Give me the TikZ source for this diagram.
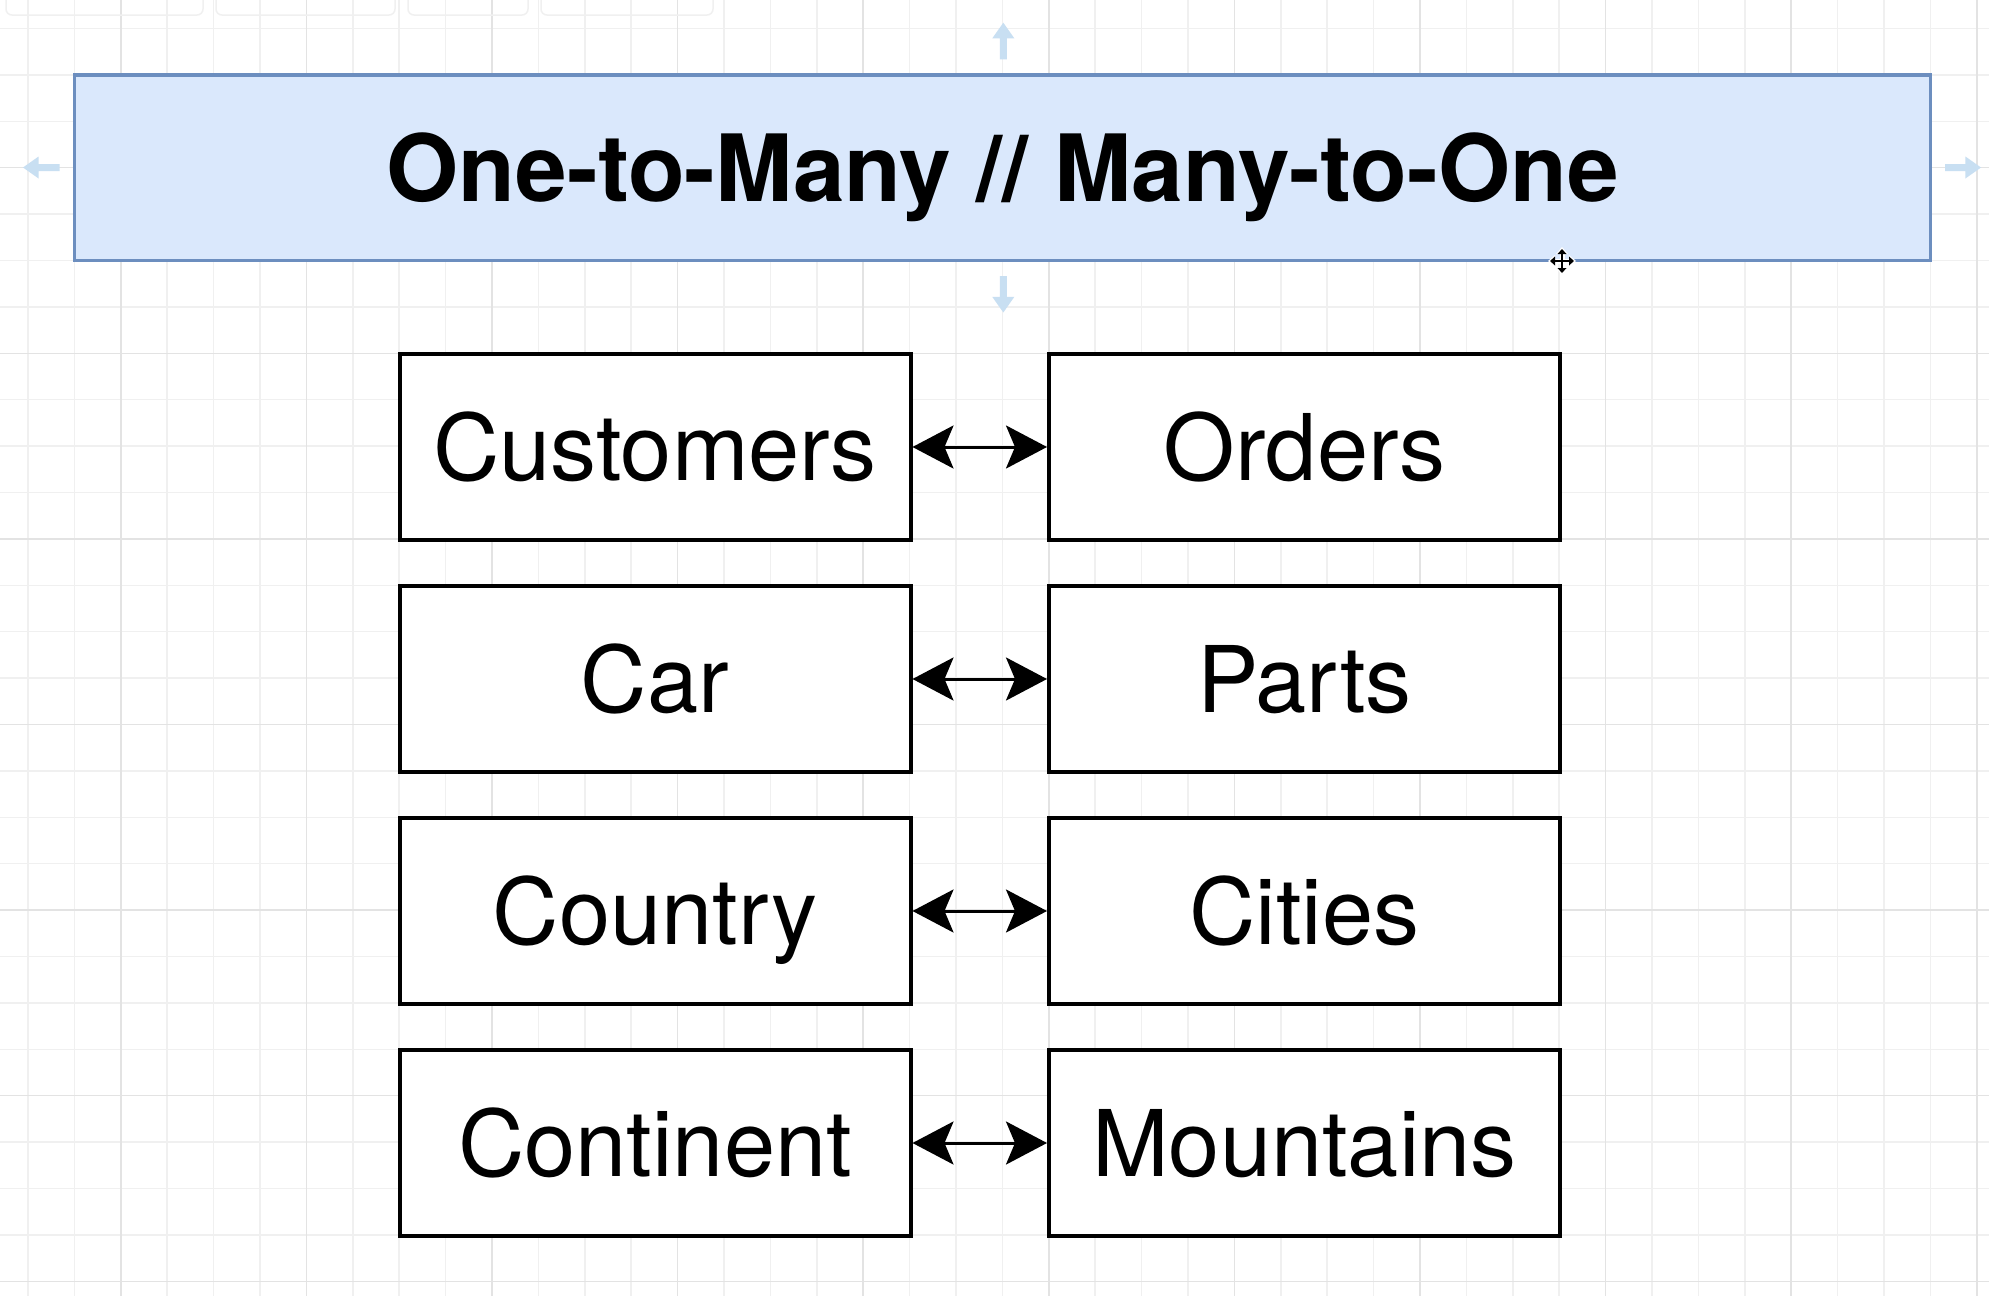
\documentclass[tikz,border=0pt]{standalone}
\usepackage{fontspec}
\setmainfont{TeX Gyre Heros}
\usetikzlibrary{arrows.meta}
\definecolor{gridminor}{HTML}{F0F0F0}
\definecolor{gridmajor}{HTML}{E3E3E3}
\definecolor{titlefill}{HTML}{DAE8FC}
\definecolor{titledraw}{HTML}{6C8EBF}
\definecolor{hoverblue}{HTML}{C8DFF2}
\definecolor{toolgray}{HTML}{F0F0F0}
\tikzset{
  x=1pt, y=-1pt,
  minorline/.style={gridminor, line width=1.5pt},
  majorline/.style={gridmajor, line width=1.5pt},
  entitybox/.style={draw=black, fill=white, line width=4pt, rectangle,
    minimum width=511pt, minimum height=186pt, inner sep=0pt,
    font=\fontsize{92}{100}\selectfont, text height=66pt, text depth=0pt},
  titlebox/.style={draw=titledraw, fill=titlefill, line width=3.5pt, rectangle,
    minimum width=1856pt, minimum height=185.6pt, inner sep=0pt,
    font=\fontsize{92.8}{100}\selectfont\bfseries, text height=66.6pt, text depth=0pt},
  relation/.style={line width=3pt, black,
    {Stealth[length=41pt,width=43pt,inset=9pt]}-{Stealth[length=41pt,width=43pt,inset=9pt]}},
  hoverarrow/.style={fill=hoverblue, draw=none},
  toolbtn/.style={draw=toolgray, line width=1.5pt, rounded corners=6pt}
}
\begin{document}
\begin{tikzpicture}
\useasboundingbox (0,0) rectangle (1989,1296);
\fill[white] (0,0) rectangle (1989,1296);
% grid
\foreach \k in {0,...,42} {
  \pgfmathsetmacro\xx{28+46.4*\k}
  \draw[minorline] (\xx,0) -- (\xx,1296);
}
\foreach \k in {-7,...,20} {
  \pgfmathsetmacro\yy{353.3+46.4*\k}
  \draw[minorline] (0,\yy) -- (1989,\yy);
}
\foreach \k in {2,6,...,42} {
  \pgfmathsetmacro\xx{28+46.4*\k}
  \draw[majorline] (\xx,0) -- (\xx,1296);
}
\foreach \k in {-4,0,...,20} {
  \pgfmathsetmacro\yy{353.3+46.4*\k}
  \draw[majorline] (0,\yy) -- (1989,\yy);
}
% faint toolbar remnants
\draw[toolbtn] (6,-10) rectangle (203,15);
\draw[toolbtn] (216,-10) rectangle (395,15);
\draw[toolbtn] (408,-10) rectangle (528,15);
\draw[toolbtn] (541,-10) rectangle (713,15);

% hover arrows around title
\fill[hoverarrow] (1003.3,22.7) -- (1014.3,38.3) -- (1006.8,38.3) -- (1006.8,59.3)
  -- (999.8,59.3) -- (999.8,38.3) -- (992.3,38.3) -- cycle;
\fill[hoverarrow] (1003.3,312.5) -- (1014.3,296.9) -- (1006.8,296.9) -- (1006.8,276)
  -- (999.8,276) -- (999.8,296.9) -- (992.3,296.9) -- cycle;
\fill[hoverarrow] (23,167.5) -- (38.6,156.5) -- (38.6,164) -- (59.6,164)
  -- (59.6,171) -- (38.6,171) -- (38.6,178.5) -- cycle;
\fill[hoverarrow] (1981,167.5) -- (1965.4,156.5) -- (1965.4,164) -- (1945,164)
  -- (1945,171) -- (1965.4,171) -- (1965.4,178.5) -- cycle;

% title
\node[titlebox] (title) at (1002.6,167.7) {One-to-Many // Many-to-One};

% entity boxes
\node[entitybox] (customers) at (655,447) {Customers};
\node[entitybox] (orders)    at (1304.5,447) {Orders};
\node[entitybox] (car)       at (655,679) {Car};
\node[entitybox] (parts)     at (1304.5,679) {Parts};
\node[entitybox] (country)   at (655,911) {Country};
\node[entitybox] (cities)    at (1304.5,911) {Cities};
\node[entitybox] (continent) at (655,1143) {Continent};
\node[entitybox] (mountains) at (1304.5,1143) {Mountains};

% relations
\draw[relation] (customers.east) -- (orders.west);
\draw[relation] (car.east) -- (parts.west);
\draw[relation] (country.east) -- (cities.west);
\draw[relation] (continent.east) -- (mountains.west);

% move cursor
\begin{scope}[shift={(1562,261)}]
  \draw[white, line width=5pt, line cap=round] (-9,0) -- (9,0) (0,-9) -- (0,9);
  \fill[white] (-14,0) -- (-7,-6) -- (-7,6) -- cycle;
  \fill[white] (14,0) -- (7,-6) -- (7,6) -- cycle;
  \fill[white] (0,-14) -- (-6,-7) -- (6,-7) -- cycle;
  \fill[white] (0,14) -- (-6,7) -- (6,7) -- cycle;
  \draw[black, line width=2pt] (-9,0) -- (9,0) (0,-9) -- (0,9);
  \fill[black] (-12,0) -- (-7,-4.5) -- (-7,4.5) -- cycle;
  \fill[black] (12,0) -- (7,-4.5) -- (7,4.5) -- cycle;
  \fill[black] (0,-12) -- (-4.5,-7) -- (4.5,-7) -- cycle;
  \fill[black] (0,12) -- (-4.5,7) -- (4.5,7) -- cycle;
\end{scope}
\end{tikzpicture}
\end{document}
